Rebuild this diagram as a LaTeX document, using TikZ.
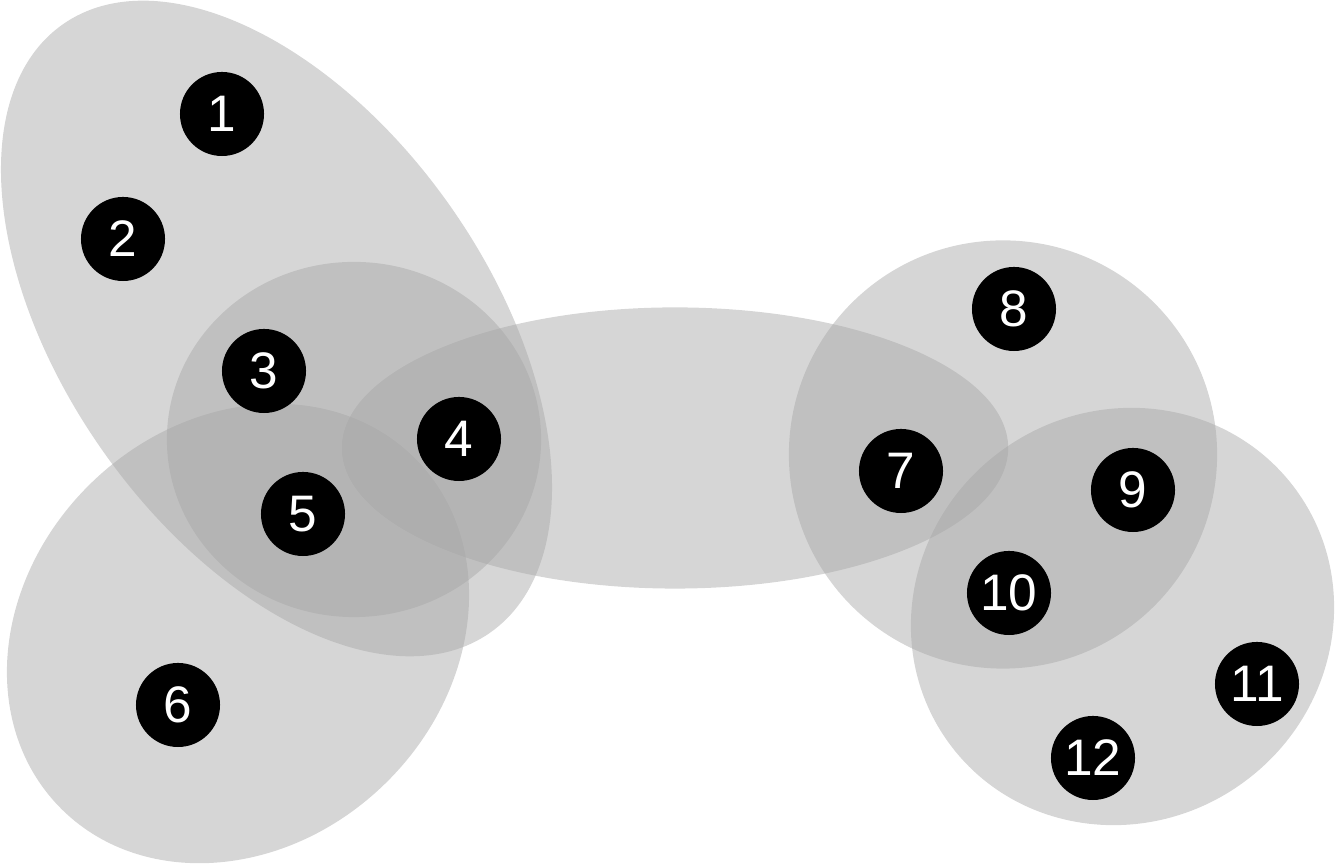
\documentclass[tikz,border=0pt]{standalone}
\usepackage{fontspec}
\newfontfamily\labelfont{Liberation Sans}
\definecolor{hedgegray}{RGB}{166,166,166}
\begin{document}
\begin{tikzpicture}[x=0.01cm,y=0.01cm,
  hedge/.style={fill=hedgegray, fill opacity=0.46},
  vtx/.style={circle, fill=black, minimum size=0.84cm, inner sep=0pt,
    text=white, font=\labelfont\fontsize{14.6}{17}\selectfont}]
\useasboundingbox (0,0) rectangle (1335,-865);
% hyperedges
\fill[hedge, shift={(276.5,-328.5)}, rotate=-54.9] (0,0) ellipse [x radius=3.715cm, y radius=2.124cm];
\fill[hedge, shift={(354,-439.5)}] (0,0) ellipse [x radius=1.87cm, y radius=1.775cm];
\fill[hedge, shift={(238,-633.5)}, rotate=44] (0,0) ellipse [x radius=2.488cm, y radius=2.101cm];
\fill[hedge, shift={(675,-448)}] (0,0) ellipse [x radius=3.33cm, y radius=1.405cm];
\fill[hedge, shift={(1003,-454.5)}] (0,0) ellipse [x radius=2.14cm, y radius=2.14cm];
\fill[hedge, shift={(1122.5,-616.5)}, rotate=36] (0,0) ellipse [x radius=2.147cm, y radius=2.052cm];
% vertices
\node[vtx] (v1) at (222,-114) {1};
\node[vtx] (v2) at (123,-239) {2};
\node[vtx] (v3) at (264,-371) {3};
\node[vtx] (v4) at (459,-439) {4};
\node[vtx] (v5) at (303,-514) {5};
\node[vtx] (v6) at (178,-705) {6};
\node[vtx] (v7) at (901,-471) {7};
\node[vtx] (v8) at (1014,-309) {8};
\node[vtx] (v9) at (1133,-490) {9};
\node[vtx] (v10) at (1009,-593) {10};
\node[vtx] (v11) at (1257,-684) {11};
\node[vtx] (v12) at (1093,-758) {12};
\end{tikzpicture}
\end{document}
